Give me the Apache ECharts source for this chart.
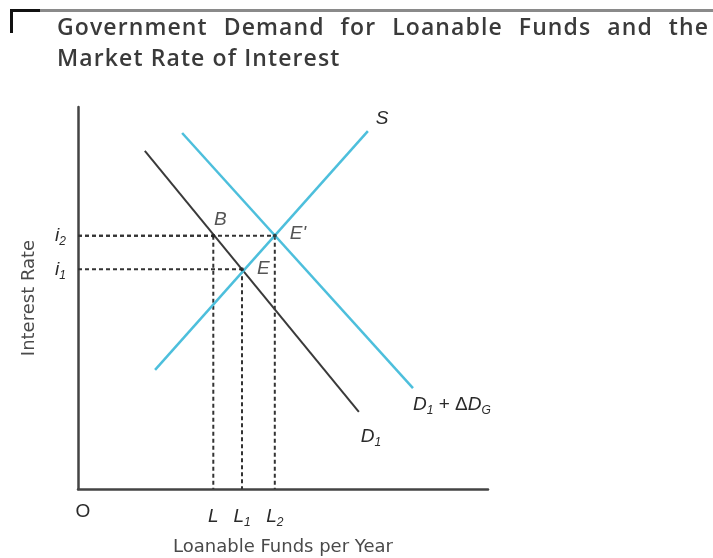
<!DOCTYPE html>
<html>
<head>
<meta charset="utf-8">
<script src="https://cdn.jsdelivr.net/npm/echarts@6/dist/echarts.min.js"></script>
<style>
  html, body { margin: 0; padding: 0; background: #fff; }
  #chart { width: 713px; height: 558px; }
</style>
</head>
<body>
<div id="chart"></div>
<script>
// curves (axis units 0..100)
const supplyS = [[18.8, 31.2], [70.7, 93.7]];
const demandD1 = [[16.3, 88.5], [68.5, 20.2]];
const demandD1G = [[25.4, 93.2], [81.7, 26.4]];

// tick positions on the axes
const quantityTicks = [33, 40, 48];       // L, L1, L2
const quantityLabels = ['L', 'L1', 'L2'];
const rateTicks = [57.5, 66.3];           // i1, i2
const rateLabels = ['i1', 'i2'];

// equilibrium points
const pointNames = ['B', 'E', "E'"];
const pointValues = [
  [quantityTicks[0], rateTicks[1]],
  [quantityTicks[1], rateTicks[0]],
  [quantityTicks[2], rateTicks[1]]
];

const titleLine1 = 'Government Demand for Loanable Funds and the';
const titleLine2 = 'Market Rate of Interest';

const ink = '#2a2a2a';
const blue = '#4dbfdc';
const italicFont = 'Liberation Sans';

const richStyles = {
  m: { fontStyle: 'italic', fontSize: 19, fontFamily: italicFont, color: ink, lineHeight: 24, verticalAlign: 'middle' },
  s: { fontStyle: 'italic', fontSize: 12, fontFamily: italicFont, color: ink, lineHeight: 24, verticalAlign: 'bottom' },
  n: { fontSize: 19, fontFamily: italicFont, color: ink, lineHeight: 24, verticalAlign: 'middle', padding: [0, 0, 10, 10] },
  up: { fontSize: 19, fontFamily: italicFont, color: ink, lineHeight: 24, verticalAlign: 'middle' }
};

// 'L1' -> {m|L}{s|1}
const sub = (txt) => {
  if (txt.length === 1) return '{m|' + txt + '}';
  return '{m|' + txt[0] + '}{s|' + txt.slice(1) + '}';
};

// dashed guides from each point to both axes
const guides = [];
pointValues.forEach((p) => {
  guides.push([[0, p[1]], p]);
  guides.push([p, [p[0], 0]]);
});

// title is set letter by letter so it can be tracked and justified like the print
const titleFont = '600 23px "Open Sans"';
const measure = document.createElement('canvas').getContext('2d');
measure.font = titleFont;

function setLine(text, x0, y, tracking, width) {
  const chars = text.split('');
  let natural = 0;
  chars.forEach((c) => { natural += measure.measureText(c).width + tracking; });
  natural -= tracking;
  const spaces = chars.filter((c) => c === ' ').length;
  const extra = width ? (width - natural) / spaces : 0;
  const out = [];
  let x = x0;
  chars.forEach((c) => {
    if (c !== ' ') {
      out.push({ type: 'text', x: x, y: y, style: { text: c, font: titleFont, fill: '#3a3a3a', verticalAlign: 'middle' } });
    }
    x += measure.measureText(c).width + tracking + (c === ' ' ? extra : 0);
  });
  return out;
}

const graphics = [
  { type: 'rect', shape: { x: 40, y: 9, width: 673, height: 3 }, style: { fill: '#8a8a8a' } },
  { type: 'rect', shape: { x: 10, y: 9, width: 30, height: 3 }, style: { fill: '#111' } },
  { type: 'rect', shape: { x: 10, y: 9, width: 3, height: 24 }, style: { fill: '#111' } }
].concat(setLine(titleLine1, 57, 28, 1.1, 651), setLine(titleLine2, 57, 59, 1.1));

const chart = echarts.init(document.getElementById('chart'));

chart.setOption({
  animation: false,
  graphic: graphics,
  grid: { left: 78, right: 225, top: 107, bottom: 69, outerBoundsMode: 'none' },
  xAxis: {
    type: 'value',
    min: 0,
    max: 100,
    name: 'Loanable Funds per Year',
    nameLocation: 'middle',
    nameGap: 49,
    nameTextStyle: { fontFamily: 'DejaVu Sans', fontSize: 18, color: '#4a4a4a' },
    axisLine: { lineStyle: { color: '#444', width: 2.5 } },
    axisTick: { show: false },
    splitLine: { show: false },
    axisLabel: {
      customValues: [0].concat(quantityTicks),
      margin: 16,
      rich: richStyles,
      formatter: (v) => {
        if (v === 0) return '{n|O}';
        const k = quantityTicks.indexOf(v);
        return sub(quantityLabels[k]);
      }
    }
  },
  yAxis: {
    type: 'value',
    min: 0,
    max: 100,
    name: 'Interest Rate',
    nameLocation: 'middle',
    nameGap: 40,
    nameTextStyle: { fontFamily: 'DejaVu Sans', fontSize: 18, color: '#4a4a4a' },
    axisLine: { show: true, lineStyle: { color: '#444', width: 2.5 } },
    axisTick: { show: false },
    splitLine: { show: false },
    axisLabel: {
      customValues: rateTicks,
      margin: 12,
      rich: richStyles,
      formatter: (v) => sub(rateLabels[rateTicks.indexOf(v)])
    }
  },
  series: [
    ...guides.map((g) => ({
      type: 'line',
      data: g,
      showSymbol: false,
      silent: true,
      lineStyle: { color: '#333', width: 2, type: [4, 3] },
      z: 1
    })),
    {
      type: 'line',
      data: demandD1,
      showSymbol: false,
      lineStyle: { color: '#3a3a3a', width: 2 },
      endLabel: { show: true, formatter: '{m|D}{s|1}', rich: richStyles, offset: [-6, 25] },
      z: 3
    },
    {
      type: 'line',
      data: demandD1G,
      showSymbol: false,
      lineStyle: { color: blue, width: 2.5 },
      endLabel: { show: true, formatter: '{m|D}{s|1}{up| + Δ}{m|D}{s|G}', rich: richStyles, offset: [-8, 17] },
      z: 3
    },
    {
      type: 'line',
      data: supplyS,
      showSymbol: false,
      lineStyle: { color: blue, width: 2.5 },
      endLabel: { show: true, formatter: '{m|S}', rich: richStyles, offset: [0, -12] },
      z: 3
    },
    {
      type: 'scatter',
      symbolSize: 4,
      itemStyle: { color: '#222' },
      z: 4,
      data: pointValues.map((p, k) => ({
        value: p,
        name: pointNames[k],
        label: {
          show: true,
          formatter: '{m|' + pointNames[k] + '}',
          rich: richStyles,
          position: k === 0 ? 'top' : 'right',
          offset: k === 0 ? [7, 3] : (k === 1 ? [8, -1] : [8, -2])
        }
      }))
    }
  ]
});
</script>
</body>
</html>
